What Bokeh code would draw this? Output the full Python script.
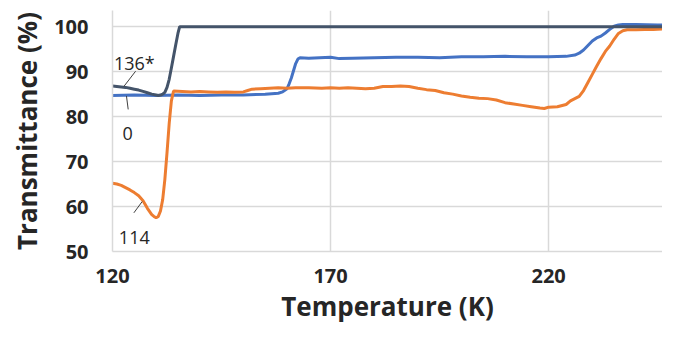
from bokeh.plotting import figure
from bokeh.models import Range1d, FixedTicker, Label
from bokeh.embed import file_html
from bokeh.resources import INLINE

# ---- data ----
dark_T = [120, 121, 122, 123, 124, 125, 126, 127, 128, 129, 130, 130.5, 131, 131.5, 132, 132.5,
          133, 133.5, 134, 134.5, 135, 135.4, 250]
dark_V = [86.8, 86.7, 86.6, 86.5, 86.3, 86.1, 85.9, 85.6, 85.3, 85.0, 84.8, 84.7, 84.8, 85.0, 85.4, 86.5,
          88.3, 90.8, 93.4, 96.0, 98.5, 100.0, 100.0]

orange_T = [120, 121, 122, 123, 124, 125, 126, 127, 128, 129, 129.5, 130, 130.5, 131, 131.5, 132,
            132.5, 133, 133.5, 134, 136, 138, 140, 142, 144, 146, 148, 150, 151, 152, 154, 156,
            158, 160, 162, 165, 168, 170, 172, 174, 176, 178, 180, 182, 184, 186, 188, 190, 192,
            194, 196, 198, 200, 202, 204, 206, 208, 210, 212, 214, 216, 218, 219, 220, 222, 224,
            225, 226, 227, 228, 229, 230, 231, 232, 233, 234, 235, 236, 237, 238, 240, 242, 244,
            246, 248, 250]
orange_V = [65.2, 65.0, 64.7, 64.2, 63.7, 63.1, 62.4, 61.3, 59.6, 58.2, 57.8, 57.5, 57.8, 59.0, 61.5,
            66.0, 72.0, 78.5, 83.5, 85.7, 85.6, 85.5, 85.6, 85.5, 85.4, 85.5, 85.4, 85.5, 85.8, 86.1,
            86.2, 86.3, 86.4, 86.3, 86.4, 86.4, 86.3, 86.4, 86.3, 86.4, 86.3, 86.2, 86.3, 86.7, 86.7,
            86.8, 86.7, 86.3, 86.0, 85.8, 85.3, 85.0, 84.6, 84.3, 84.1, 84.0, 83.7, 83.1, 82.8, 82.5,
            82.2, 81.9, 81.8, 82.1, 82.2, 82.7, 83.5, 84.0, 84.5, 85.8, 87.6, 89.4, 91.2, 92.9, 94.5,
            95.7, 97.2, 98.5, 99.1, 99.3, 99.3, 99.4, 99.4, 99.5, 99.5, 99.6]

blue_T = [120, 125, 130, 135, 140, 145, 150, 155, 158, 159, 160, 160.5, 161, 161.5, 162, 162.5, 163,
          165, 170, 172, 175, 180, 185, 190, 195, 200, 205, 210, 215, 220, 224, 226, 227, 228, 229,
          230, 231, 232, 233, 234, 235, 236, 237, 240, 245, 250]
blue_V = [84.7, 84.8, 84.7, 84.8, 84.7, 84.8, 84.8, 85.0, 85.2, 85.5, 86.2, 87.3, 88.6, 90.2, 91.8,
          92.8, 93.1, 93.0, 93.2, 92.9, 93.0, 93.1, 93.2, 93.2, 93.1, 93.3, 93.3, 93.4, 93.3, 93.3,
          93.4, 93.7, 94.1, 94.8, 95.8, 96.8, 97.5, 97.9, 98.6, 99.4, 100.1, 100.4, 100.5, 100.5,
          100.4, 100.3]

x_ticks = [120, 170, 220]
y_ticks = [50, 60, 70, 80, 90, 100]

# series labels (text, x, baseline y) and leader lines
lab_text = ["136*", "0", "114"]
lab_x = [125.0, 123.5, 125.0]
lab_y = [92.0, 76.2, 53.1]
lead_x0 = [125.3, 123.2, 126.8]
lead_y0 = [90.1, 84.6, 61.1]
lead_x1 = [122.6, 123.6, 124.9]
lead_y1 = [86.7, 81.6, 58.6]

FONT = "Open Sans"
GRID = "#D9D9D9"

p = figure(width=662, height=327, output_backend="svg", toolbar_location=None,
           x_range=Range1d(120, 246.1), y_range=Range1d(50, 103.6),
           min_border_left=112, min_border_right=0, min_border_top=10, min_border_bottom=76)
p.outline_line_color = None
p.background_fill_color = "white"

p.xaxis.ticker = FixedTicker(ticks=x_ticks)
p.yaxis.ticker = FixedTicker(ticks=y_ticks)
for ax in (p.xaxis[0], p.yaxis[0]):
    ax.major_tick_line_color = None
    ax.minor_tick_line_color = None
    ax.major_tick_out = 0
    ax.major_tick_in = 0
    ax.minor_tick_out = 0
    ax.minor_tick_in = 0
    ax.axis_line_color = GRID
    ax.axis_line_width = 1.5
    ax.major_label_text_font = FONT
    ax.major_label_text_font_style = "bold"
    ax.major_label_text_font_size = "20px"
    ax.major_label_text_color = "#262626"
    ax.axis_label_text_font = FONT
    ax.axis_label_text_font_style = "bold"
    ax.axis_label_text_font_size = "26px"
    ax.axis_label_text_color = "#262626"
p.xaxis.axis_label = "Temperature (K)"
p.yaxis.axis_label = "Transmittance (%)"
p.xaxis.major_label_standoff = 17
p.yaxis.major_label_standoff = 24
p.xaxis.axis_label_standoff = 2
p.yaxis.axis_label_standoff = 6

p.xgrid.ticker = FixedTicker(ticks=x_ticks)
p.ygrid.ticker = FixedTicker(ticks=y_ticks)
p.grid.grid_line_color = GRID
p.grid.grid_line_width = 1.5

p.line(blue_T, blue_V, line_color="#4472C4", line_width=3)
p.line(orange_T, orange_V, line_color="#ED7D31", line_width=3)
p.line(dark_T, dark_V, line_color="#44546A", line_width=3)

p.segment(x0=lead_x0, y0=lead_y0, x1=lead_x1, y1=lead_y1, line_color="#404040", line_width=1)
for t, x, y in zip(lab_text, lab_x, lab_y):
    p.add_layout(Label(x=x, y=y, text=t, text_align="center", text_baseline="alphabetic",
                       text_font=FONT, text_font_size="18px", text_color="#262626"))

open("out.html", "w").write(file_html(p, INLINE))
